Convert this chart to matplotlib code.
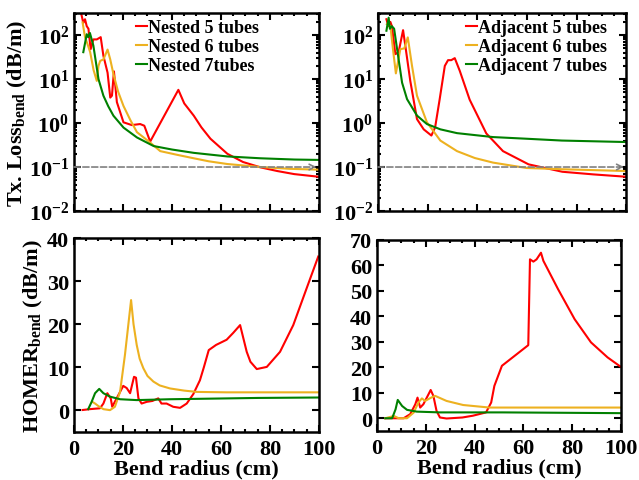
import numpy as np
import matplotlib
matplotlib.use("Agg")
import matplotlib.pyplot as plt
from matplotlib.ticker import MultipleLocator, LogLocator, NullFormatter

plt.rcParams["font.family"] = "Liberation Serif"
plt.rcParams["font.weight"] = "bold"
plt.rcParams["axes.labelweight"] = "bold"
plt.rcParams["mathtext.fontset"] = "custom"
plt.rcParams["mathtext.rm"] = "Liberation Serif:bold"
plt.rcParams["mathtext.bf"] = "Liberation Serif:bold"
plt.rcParams["mathtext.it"] = "Liberation Serif:bold:italic"
plt.rcParams["mathtext.default"] = "rm"

RED = "#FF0000"
ORANGE = "#EDB120"
GREEN = "#008000"

# ---- Tx. loss, nested tubes (dB/m)
nest5_tx_x = [3, 3.8, 4.5, 5.2, 5.9, 6.8, 7.9, 9.3, 10.9, 12, 13.7, 14.8, 15.5, 16.3, 17.5,
              20.2, 23.6, 27, 28.7, 31.1, 42.6, 45, 48.9, 52, 55.7, 62.6, 69, 76.2, 83, 89.9, 100]
nest5_tx_y = [300, 190, 230, 160, 140, 48, 80, 80, 90, 34, 14, 3.8, 4.2, 15, 3.0,
              1.04, 0.9, 0.95, 0.87, 0.38, 5.7, 2.8, 1.47, 0.8, 0.44, 0.2, 0.13, 0.098, 0.081, 0.069, 0.06]
nest6_tx_x = [3.5, 4.5, 5.5, 6.6, 8, 9.3, 10.0, 10.7, 12, 13.7, 14.8, 16.1, 18, 20.2, 23,
              25.7, 31.1, 35.2, 42, 48.9, 55, 62.6, 76.2, 88, 100]
nest6_tx_y = [195, 90, 63, 41, 16, 9.1, 20, 26, 28, 47, 28, 13, 5.2, 2.45, 1.17,
              0.62, 0.36, 0.23, 0.19, 0.158, 0.135, 0.117, 0.1, 0.091, 0.087]
nest7_tx_x = [3.8, 5.2, 5.8, 6.5, 7.9, 10, 12, 14, 16.1, 20.2, 25.7, 32.5, 40, 48.9, 62.6, 76.2, 90, 100]
nest7_tx_y = [41, 105, 90, 112, 58, 10, 4.2, 2.4, 1.47, 0.79, 0.47, 0.30, 0.25, 0.21, 0.174, 0.158, 0.148, 0.145]

# ---- Tx. loss, adjacent tubes (dB/m)
adj5_tx_x = [3.4, 4.2, 5, 5.6, 7.0, 8.3, 10.1, 11.0, 13.0, 15.7, 18.4, 21.5, 23, 24.8, 26.9,
             28.2, 29.5, 30.9, 32.9, 36.9, 43.6, 50.3, 60.6, 74.2, 86.6, 100]
adj5_tx_y = [230, 160, 200, 160, 37, 41, 130, 58, 9.1, 1.23, 0.72, 0.52, 0.8, 3.4, 20,
             27, 27, 30, 15.5, 3.4, 0.58, 0.23, 0.115, 0.078, 0.068, 0.06]
adj6_tx_x = [3.6, 5, 6.2, 7.2, 9.0, 10.6, 12.0, 13.7, 15.7, 19.7, 25.1, 31.8, 39, 46.3, 59.8, 74.2, 100]
adj6_tx_y = [178, 160, 40, 13.5, 48, 50, 89, 20, 4.2, 1.04, 0.4, 0.23, 0.16, 0.126, 0.095, 0.089, 0.081]
adj7_tx_x = [3.4, 4.3, 4.8, 5.6, 6.5, 7.7, 9.7, 11.7, 15.7, 19.7, 25.1, 31.8, 46.3, 59.8, 74, 100]
adj7_tx_y = [126, 250, 140, 160, 140, 48, 8.3, 3.5, 1.48, 0.95, 0.72, 0.59, 0.48, 0.44, 0.40, 0.37]

# ---- HOMER, nested tubes
nest5_hm_x = [3.5, 6.5, 10.6, 12, 13.6, 15, 15.6, 17.4, 20.1, 21.5, 22.9, 24.5, 25.3, 26.3, 27.6,
              29.7, 32, 34.4, 35.7, 37.8, 40.5, 43.3, 46, 48.7, 51.4, 53, 55, 58, 62.3, 65,
              67.8, 70.5, 72, 74.6, 78.7, 84.1, 89.5, 95, 99.7]
nest5_hm_y = [0.1, 0.3, 0.5, 1.6, 4.0, 2.8, 0.85, 2.8, 5.7, 5.2, 4.0, 7.8, 7.6, 2.8, 1.6,
              2.0, 2.2, 2.8, 1.6, 1.6, 0.85, 0.6, 1.6, 3.8, 7, 10, 14, 15.2, 16.4, 18,
              19.8, 13.6, 11.3, 9.6, 10.1, 13.6, 19.8, 28.4, 35.7]
nest6_hm_x = [7.5, 8.6, 10, 12, 14.7, 16.7, 18.8, 20.8, 22.0, 23.3, 24.3, 25.6, 26.8, 28.3, 30,
              32.4, 35, 39.2, 45, 50.1, 62.3, 80, 100]
nest6_hm_y = [2.0, 1.6, 1.0, 0.3, 0.07, 0.85, 4.3, 12.9, 19, 25.6, 20, 15.2, 12, 9.8, 8,
              6.7, 5.8, 5.1, 4.6, 4.3, 4.2, 4.2, 4.2]
nest7_hm_x = [5.8, 7.2, 8.6, 10.3, 12, 14.7, 18.8, 25.6, 39.2, 51.4, 75, 100]
nest7_hm_y = [0.3, 2.0, 4.0, 5.0, 4.0, 3.2, 2.6, 2.4, 2.6, 2.7, 2.9, 3.0]

# ---- HOMER, adjacent tubes
adj5_hm_x = [3.4, 10.9, 13.6, 15.7, 16.6, 17.7, 19, 21.1, 22, 23.1, 24.4, 25.8, 28.5, 35, 39.3,
             44.7, 46.8, 48.1, 51.2, 62, 62.7, 64.1, 65.4, 67.2, 68.2, 74.2, 81, 87.7, 94.5, 99.9]
adj5_hm_y = [0, 0, 1.6, 5.5, 8.1, 4.2, 5.5, 9.4, 11.1, 8.8, 2.9, 0.3, -0.1, 0.3, 1.0,
             2.3, 6.2, 12.7, 20.6, 28.7, 62.4, 61.5, 62.4, 65, 61.8, 50.7, 38.9, 29.8, 23.9, 20.2]
adj6_hm_x = [3.4, 6.9, 8.9, 12.3, 15, 17, 18.4, 19.7, 22.4, 23.8, 28.5, 35.3, 46.1, 70, 100]
adj6_hm_y = [0, 0.9, 0, 0, 2.2, 6.2, 7.8, 6.8, 8.2, 8.8, 6.8, 5.2, 4.2, 4.2, 4.2]
adj7_hm_x = [3.4, 6.2, 7.6, 8.5, 10.3, 12.3, 16.3, 25.8, 51.5, 100]
adj7_hm_y = [0, 0, 3.5, 7.2, 4.8, 3.3, 2.6, 2.3, 2.3, 2.0]

threshold = 0.1

fig = plt.figure(figsize=(6.39, 4.81), dpi=100)
ax1 = fig.add_axes([0.1158, 0.5593, 0.3834, 0.4117])
ax2 = fig.add_axes([0.5915, 0.5593, 0.3889, 0.4117])
ax3 = fig.add_axes([0.1158, 0.0998, 0.3834, 0.4033])
ax4 = fig.add_axes([0.5900, 0.1019, 0.3818, 0.3971])


def style(ax):
    for s in ax.spines.values():
        s.set_linewidth(1.8)
    ax.set_xlim(0, 100)
    ax.xaxis.set_major_locator(MultipleLocator(20))
    ax.xaxis.set_minor_locator(MultipleLocator(5))
    ax.tick_params(which="both", direction="in", top=True, right=True, width=1.5, labelsize=16)
    ax.tick_params(axis="x", pad=5)
    ax.tick_params(which="major", length=5)
    ax.tick_params(which="minor", length=2.5)


# top panels
for ax, data, labels, anchor in [
    (ax1, [(nest5_tx_x, nest5_tx_y, RED), (nest6_tx_x, nest6_tx_y, ORANGE), (nest7_tx_x, nest7_tx_y, GREEN)],
     ["Nested 5 tubes", "Nested 6 tubes", "Nested 7tubes"], (0.255, 0.97)),
    (ax2, [(adj5_tx_x, adj5_tx_y, RED), (adj6_tx_x, adj6_tx_y, ORANGE), (adj7_tx_x, adj7_tx_y, GREEN)],
     ["Adjacent 5 tubes", "Adjacent 6 tubes", "Adjacent 7 tubes"], (0.355, 0.97)),
]:
    for (x, y, c), lab in zip(data, labels):
        ax.plot(x, y, color=c, lw=1.5, label=lab)
    ax.set_yscale("log")
    ax.set_ylim(1e-2, 3.2e2)
    style(ax)
    ax.yaxis.set_major_locator(LogLocator(base=10, numticks=10))
    ax.yaxis.set_minor_locator(LogLocator(base=10, subs=np.arange(2, 10), numticks=10))
    ax.yaxis.set_minor_formatter(NullFormatter())
    ax.set_xticklabels([])
    ax.annotate("", xy=(99, threshold), xytext=(0, threshold),
                arrowprops=dict(arrowstyle="->", color="gray", lw=1.2, linestyle="--",
                                shrinkA=0, shrinkB=0))
    ax.legend(loc="upper left", bbox_to_anchor=anchor, frameon=False, fontsize=13,
              handlelength=0.6, handletextpad=0.05, labelspacing=0.12, borderpad=0, borderaxespad=0)

ax1.set_ylabel("Tx. Loss$_{\\mathrm{bend}}$ (dB/m)", fontsize=16, labelpad=0)

# bottom panels
for x, y, c in [(nest5_hm_x, nest5_hm_y, RED), (nest6_hm_x, nest6_hm_y, ORANGE), (nest7_hm_x, nest7_hm_y, GREEN)]:
    ax3.plot(x, y, color=c, lw=1.5)
ax3.set_ylim(-5, 40)
style(ax3)
ax3.yaxis.set_major_locator(MultipleLocator(10))
ax3.set_xlabel("Bend radius (cm)", fontsize=16, labelpad=0)
ax3.set_ylabel("HOMER$_{\\mathrm{bend}}$ (dB/m)", fontsize=16, labelpad=1)

for x, y, c in [(adj5_hm_x, adj5_hm_y, RED), (adj6_hm_x, adj6_hm_y, ORANGE), (adj7_hm_x, adj7_hm_y, GREEN)]:
    ax4.plot(x, y, color=c, lw=1.5)
ax4.set_ylim(-5, 70)
style(ax4)
ax4.yaxis.set_major_locator(MultipleLocator(10))
ax4.set_xlabel("Bend radius (cm)", fontsize=16, labelpad=0)

fig.savefig("out.png", dpi=100)
